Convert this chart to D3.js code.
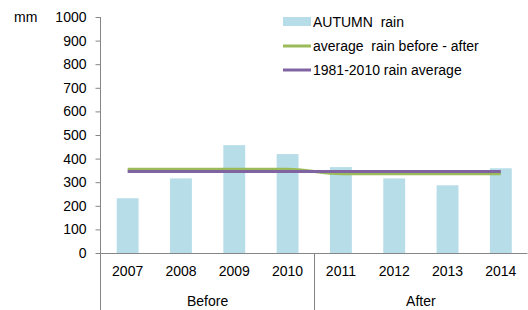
<!DOCTYPE html>
<html>
<head>
<meta charset="utf-8">
<script src="https://cdn.jsdelivr.net/npm/d3@7"></script>
<style>
  body { margin: 0; background: #fff; }
  svg { display: block; font-family: "Liberation Sans", Arial, sans-serif; }
</style>
</head>
<body>
<div id="chart"></div>
<script>
const years = ['2007', '2008', '2009', '2010', '2011', '2012', '2013', '2014'];
const autumnRain = [232, 316, 457, 419, 364, 316, 287, 359];
const beforeAfterAvg = [355, 355, 355, 355, 336, 336, 336, 336];
const normalAvg = [345, 345, 345, 345, 345, 345, 345, 345];
const groups = [
  { name: 'Before', from: '2007', to: '2010' },
  { name: 'After', from: '2011', to: '2014' }
];
const yTicks = [0, 100, 200, 300, 400, 500, 600, 700, 800, 900, 1000];

const width = 528, height = 310;
const plotLeft = 101, plotRight = 527.5, plotTop = 17, plotBottom = 253;

const barColor = '#b7dde8';
const greenColor = '#9bbb59';
const purpleColor = '#8064a2';
const axisColor = '#868686';

const svg = d3.select('#chart').append('svg')
  .attr('width', width)
  .attr('height', height);

const x = d3.scaleBand()
  .domain(years)
  .range([plotLeft, plotRight])
  .paddingInner(0.59)
  .paddingOuter(0.295);

const y = d3.scaleLinear()
  .domain([0, 1000])
  .range([plotBottom, plotTop]);

const cx = d => x(d) + x.bandwidth() / 2;

// bars
svg.append('g')
  .selectAll('rect')
  .data(years)
  .join('rect')
  .attr('x', d => x(d))
  .attr('y', (d, i) => y(autumnRain[i]))
  .attr('width', x.bandwidth())
  .attr('height', (d, i) => y(0) - y(autumnRain[i]))
  .attr('fill', barColor);

// lines
const line = d3.line()
  .x((d, i) => cx(years[i]))
  .y(d => y(d))
  .curve(d3.curveMonotoneX);

svg.append('path')
  .datum(beforeAfterAvg)
  .attr('d', line)
  .attr('fill', 'none')
  .attr('stroke', greenColor)
  .attr('stroke-width', 3);

svg.append('path')
  .datum(normalAvg)
  .attr('d', line)
  .attr('fill', 'none')
  .attr('stroke', purpleColor)
  .attr('stroke-width', 3);

// y axis
const yAxis = svg.append('g')
  .attr('transform', `translate(${plotLeft - 0.5},0)`)
  .call(d3.axisLeft(y).tickValues(yTicks).tickFormat(d3.format('d')).tickSize(5).tickPadding(9));
yAxis.select('.domain').remove();
yAxis.selectAll('.tick line').attr('stroke', axisColor);
yAxis.selectAll('.tick text')
  .attr('fill', '#000')
  .style('font-size', '14px')
  .style('font-family', '"Liberation Sans", Arial, sans-serif');

svg.append('line')
  .attr('x1', plotLeft - 0.5).attr('x2', plotLeft - 0.5)
  .attr('y1', y(1000)).attr('y2', height)
  .attr('stroke', axisColor);

svg.append('text')
  .attr('x', 14)
  .attr('y', y(1000) + 5)
  .style('font-size', '14px')
  .text('mm');

// x axis
svg.append('line')
  .attr('x1', plotLeft - 0.5).attr('x2', plotRight)
  .attr('y1', y(0) + 0.5).attr('y2', y(0) + 0.5)
  .attr('stroke', axisColor);

svg.append('g')
  .selectAll('text')
  .data(years)
  .join('text')
  .attr('x', d => cx(d))
  .attr('y', 276)
  .attr('text-anchor', 'middle')
  .style('font-size', '14px')
  .text(d => d);

// group dividers and labels
groups.forEach((g, i) => {
  const gx0 = x(g.from) - x.step() * x.paddingInner() / 2;
  const gx1 = x(g.to) + x.bandwidth() + x.step() * x.paddingInner() / 2;
  if (i > 0) {
    svg.append('line')
      .attr('x1', Math.round(gx0) + 0.5).attr('x2', Math.round(gx0) + 0.5)
      .attr('y1', y(0)).attr('y2', height)
      .attr('stroke', axisColor);
  }
  svg.append('text')
    .attr('x', (gx0 + gx1) / 2)
    .attr('y', 306)
    .attr('text-anchor', 'middle')
    .style('font-size', '14px')
    .text(g.name);
});

// legend
const legend = svg.append('g').attr('transform', 'translate(283,0)');
legend.append('rect')
  .attr('x', 0).attr('y', 17)
  .attr('width', 28).attr('height', 9)
  .attr('fill', barColor);
legend.append('line')
  .attr('x1', 0).attr('x2', 28)
  .attr('y1', 46).attr('y2', 46)
  .attr('stroke', greenColor).attr('stroke-width', 3);
legend.append('line')
  .attr('x1', 0).attr('x2', 28)
  .attr('y1', 70).attr('y2', 70)
  .attr('stroke', purpleColor).attr('stroke-width', 3);

const legendLabels = ['AUTUMN  rain', 'average  rain before - after', '1981-2010 rain average'];
legend.selectAll('text.lg')
  .data(legendLabels)
  .join('text')
  .attr('class', 'lg')
  .attr('x', 30)
  .attr('y', (d, i) => 27 + i * 24)
  .style('font-size', '14px')
  .style('white-space', 'pre')
  .text(d => d);
</script>
</body>
</html>
